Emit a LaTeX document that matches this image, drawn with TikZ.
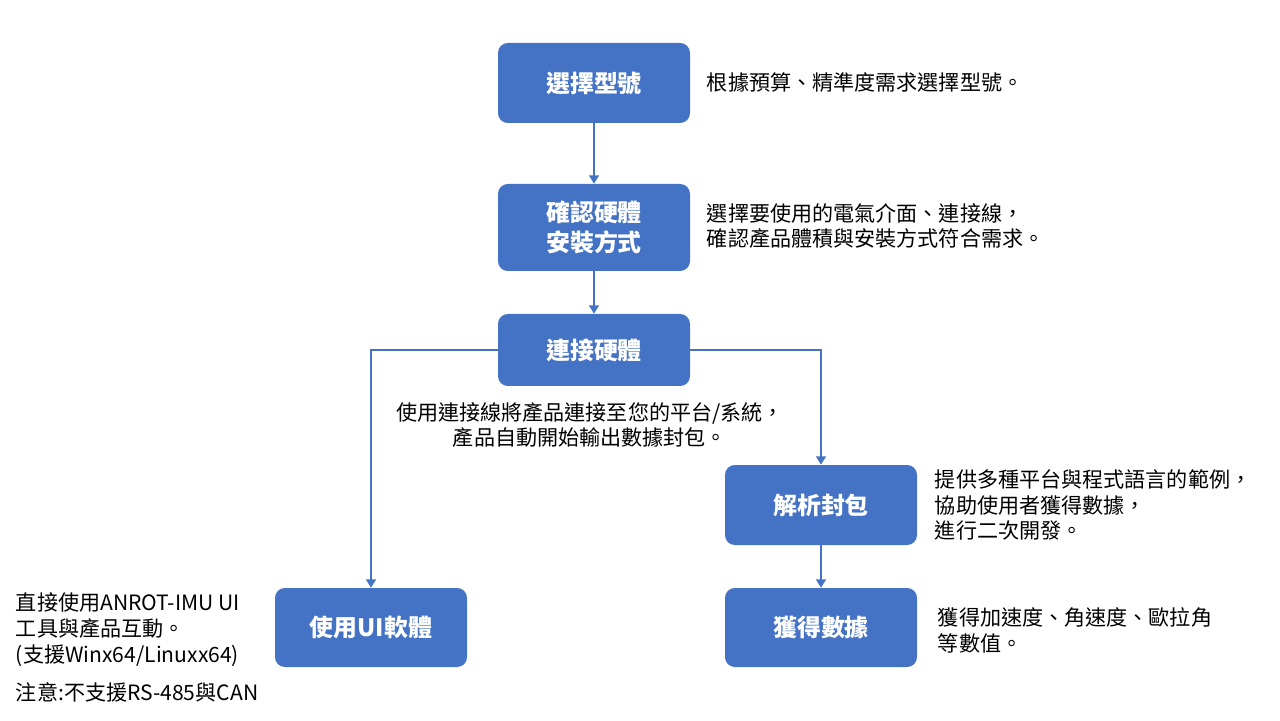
\documentclass[tikz,border=0pt]{standalone}
\usepackage{fontspec}
\setmainfont{Noto Sans CJK TC}
\usetikzlibrary{arrows.meta}
\definecolor{flowBlue}{RGB}{68,114,196}
\tikzset{
  stepbox/.style={rounded corners=7pt,fill=flowBlue,text=white,minimum width=4.8cm,
    align=center,font=\fontsize{17}{22}\selectfont\bfseries},
  note/.style={align=left,font=\fontsize{15}{18.4}\selectfont},
  flow/.style={flowBlue,line width=2pt,-{Triangle[width=7pt,length=6pt]}}
}
\begin{document}
\begin{tikzpicture}
  \useasboundingbox (0,0) rectangle (32,18);
  \node[stepbox,minimum height=2.0cm] (model) at (14.85,15.925) {選擇型號};
  \node[stepbox,minimum height=2.175cm] (mount) at (14.85,12.3125) {確認硬體\\安裝方式};
  \node[stepbox,minimum height=1.8cm] (hw) at (14.85,9.25) {連接硬體};
  \node[stepbox,minimum height=2.0cm] (parse) at (20.525,5.375) {解析封包};
  \node[stepbox,minimum height=1.975cm] (data) at (20.525,2.3125) {獲得數據};
  \node[stepbox,minimum height=1.975cm] (ui) at (9.275,2.3125) {使用UI軟體};
  \draw[flow] (model) -- (mount);
  \draw[flow] (mount) -- (hw);
  \draw[flow] (hw.west) -| (ui.north);
  \draw[flow] (hw.east) -| (parse.north);
  \draw[flow] (parse) -- (data);
  \node[note,anchor=west] (modelnote) at (17.55,15.925) {根據預算、精準度需求選擇型號。};
  \node[note,anchor=west] (mountnote) at (17.55,12.35) {選擇要使用的電氣介面、連接線，\\確認產品體積與安裝方式符合需求。};
  \node[note,align=center] (hwnote) at (14.75,7.375) {使用連接線將產品連接至您的平台/系統，\\產品自動開始輸出數據封包。};
  \node[note,anchor=west] (parsenote) at (23.25,5.375) {提供多種平台與程式語言的範例，\\協助使用者獲得數據，\\進行二次開發。};
  \node[note,anchor=west] (datanote) at (23.325,2.25) {獲得加速度、角速度、歐拉角\\等數值。};
  \node[note,anchor=west] (uinote) at (0.275,2.2625) {直接使用ANROT-IMU UI\\工具與產品互動。\\(支援Winx64/Linuxx64)};
  \node[note,anchor=west] (uiwarn) at (0.275,0.7) {注意:不支援RS-485與CAN};
\end{tikzpicture}
\end{document}
